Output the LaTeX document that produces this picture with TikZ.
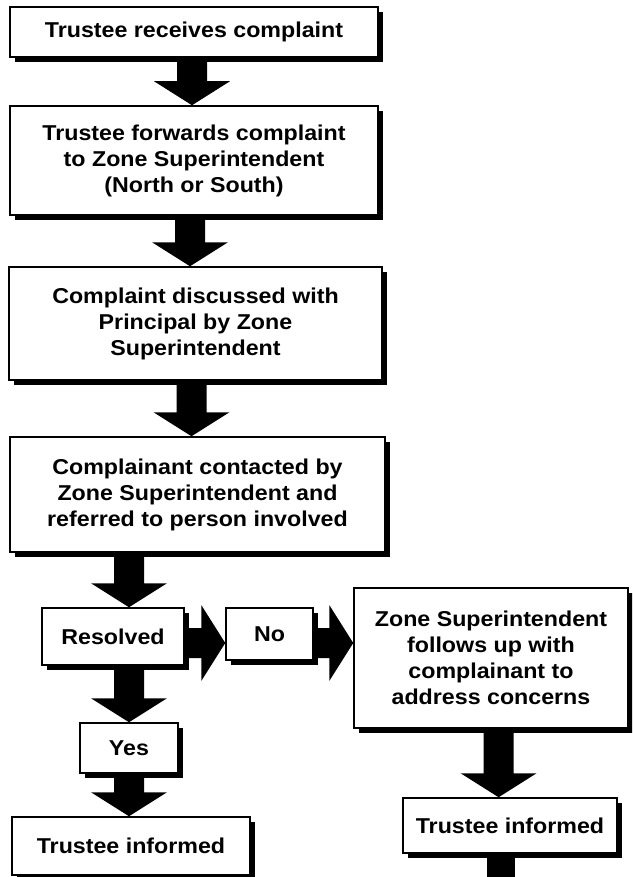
\documentclass[tikz,border=0pt]{standalone}
\usepackage{fontspec}
\setmainfont{Liberation Sans}[FakeStretch=1.08]
\usetikzlibrary{calc,shadows}
% vertical block arrow: #1 source (y start), #2 target (y of tip), #3 x position
\newcommand\vblk[3]{\fill let \p1=(#1), \p2=(#2), \p3=(#3) in
  (\x3-15pt,\y1) -- (\x3+15pt,\y1) -- (\x3+15pt,\y2+24pt) -- (\x3+38pt,\y2+24pt)
  -- (\x3,\y2) -- (\x3-38pt,\y2+24pt) -- (\x3-15pt,\y2+24pt) -- cycle;}
% horizontal block arrow: #1 source (x start), #2 target (x of tip, y of centre line)
\newcommand\hblk[2]{\fill let \p1=(#1), \p2=(#2) in
  (\x1,\y2+15pt) -- (\x2-24pt,\y2+15pt) -- (\x2-24pt,\y2+38pt) -- (\x2,\y2)
  -- (\x2-24pt,\y2-38pt) -- (\x2-24pt,\y2-15pt) -- (\x1,\y2-15pt) -- cycle;}
\begin{document}
\begin{tikzpicture}[x=1pt,y=-1pt,
  box/.style={draw=black, line width=1.5pt, fill=white, rectangle, inner sep=0pt,
    align=center, font=\fontsize{21.5}{26}\selectfont\bfseries,
    drop shadow={shadow xshift=5pt, shadow yshift=-5pt, fill=black, opacity=1}}]
\useasboundingbox (0,0) rectangle (632,877);
\fill[white] (0,0) rectangle (632,877);
\clip (0,0) rectangle (632,877);

\node[box, minimum width=368pt, minimum height=50pt] (b1) at (194,32) {Trustee receives complaint};
\node[box, minimum width=368pt, minimum height=109pt] (b2) at (194,160.5) {Trustee forwards complaint\\to Zone Superintendent\\(North or South)};
\node[box, minimum width=373pt, minimum height=113pt] (b3) at (195.5,323.5) {Complaint discussed with\\Principal by Zone\\Superintendent};
\node[box, minimum width=375pt, minimum height=115pt] (b4) at (197.5,494.5) {Complainant contacted by\\Zone Superintendent and\\referred to person involved};
\node[box, minimum width=142pt, minimum height=57pt] (res) at (113,636.5) {Resolved};
\node[box, minimum width=87pt, minimum height=52pt] (no) at (269.5,634) {No};
\node[box, minimum width=274pt, minimum height=140pt] (zs) at (491,658) {Zone Superintendent\\follows up with\\complainant to\\address concerns};
\node[box, minimum width=98pt, minimum height=50pt] (yes) at (129,748) {Yes};
\node[box, minimum width=238pt, minimum height=58pt] (ti1) at (131,846) {Trustee informed};
\node[box, minimum width=214pt, minimum height=55pt] (ti2) at (510,825.5) {Trustee informed};
\coordinate (offpage) at (501,900);

\vblk{b1.south}{b2.north}{$(b1.south)+(-2,0)$}
\vblk{b2.south}{b3.north}{$(b2.south)+(-4,0)$}
\vblk{b3.south}{b4.north}{$(b3.south)+(-4,0)$}
\vblk{b4.south}{res.north}{yes.north}
\vblk{res.south}{yes.north}{yes.north}
\vblk{yes.south}{ti1.north}{yes.north}
\vblk{zs.south}{ti2.north}{$(zs.south)!0.4!(ti2.north)$}
\hblk{res.east}{$(no.west)+(0,9)$}
\hblk{no.east}{$(zs.west |- no.west)+(0,9)$}
\fill let \p1=(ti2.south), \p2=(offpage) in (\x2-14pt,\y1) rectangle (\x2+14pt,\y2);
\end{tikzpicture}
\end{document}
